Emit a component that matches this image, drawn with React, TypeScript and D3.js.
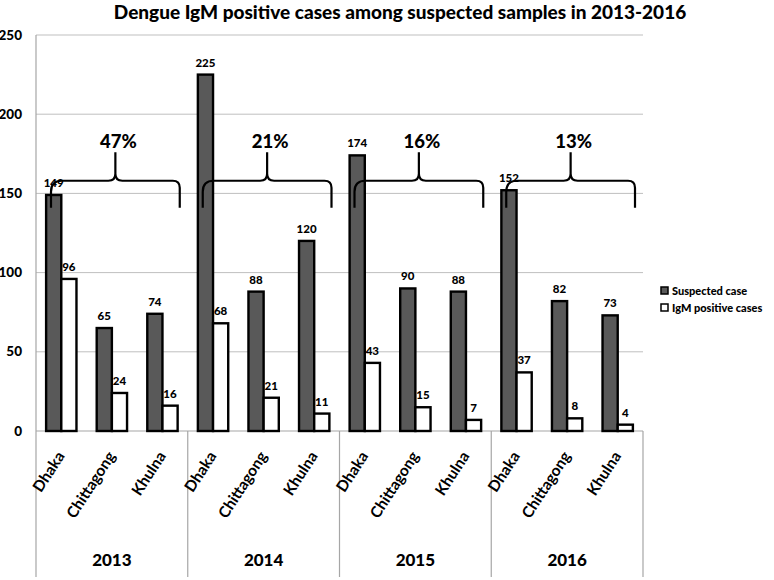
import React from "react";
import * as d3 from "d3";

const years = ["2013", "2014", "2015", "2016"];
const cities = ["Dhaka", "Chittagong", "Khulna"];
const seriesNames = ["Suspected case", "IgM positive cases"];
const suspected = [149, 65, 74, 225, 88, 120, 174, 90, 88, 152, 82, 73];
const igmPositive = [96, 24, 16, 68, 21, 11, 43, 15, 7, 37, 8, 4];
const percentLabels = ["47%", "21%", "16%", "13%"];
const yTicks = [0, 50, 100, 150, 200, 250];
const braceLevel = 158;
const braceEnd = 141;
const braceTip = 176;

const W = 774;
const H = 580;
const FONT = "Lato, 'Open Sans', sans-serif";

export default function App() {
  const left = 36, right = 643, top = 35, bottom = 431;
  const y = d3.scaleLinear().domain([0, 250]).range([bottom, top]);
  const cats = years.flatMap((yr) => cities.map((c) => `${yr}-${c}`));
  const x = d3.scaleBand().domain(cats).range([left, right]).paddingInner(0).paddingOuter(0);
  const bw = x.bandwidth();
  const inner = d3.scaleBand().domain(seriesNames).range([bw * 0.2, bw * 0.8]).padding(0);
  const series = [suspected, igmPositive];
  const fills = ["#595959", "#ffffff"];
  const groupW = bw * 3;

  const bracePath = (gx0: number) => {
    const x0 = gx0 + 15;
    const x1 = gx0 + groupW - 8;
    const xm = (x0 + x1) / 2;
    const yh = y(braceLevel);
    const ye = y(braceEnd);
    const yt = y(braceTip);
    const r = 7;
    return `M${x0},${ye} L${x0},${yh + r + 4} Q${x0},${yh} ${x0 + r + 4},${yh} L${xm - r},${yh} Q${xm},${yh} ${xm},${yh - r} L${xm},${yt} M${xm},${yh - r} Q${xm},${yh} ${xm + r},${yh} L${x1 - r},${yh} Q${x1},${yh} ${x1},${yh + r} L${x1},${ye}`;
  };

  return (
    <svg width={W} height={H} style={{ position: "absolute", left: 0, top: 0, background: "#fff" }} fontFamily={FONT}>
      <rect x={0} y={0} width={W} height={H} fill="#fff" />
      <text x={400} y={19} textAnchor="middle" fontSize={19} fontWeight="900" fill="#000">
        Dengue IgM positive cases among suspected samples in 2013-2016
      </text>
      {yTicks.map((t) => (
        <g key={t}>
          {t > 0 && <line x1={left} x2={right} y1={y(t)} y2={y(t)} stroke="#bfbfbf" strokeWidth={1} />}
          <text x={22} y={y(t) + 4.5} textAnchor="end" fontSize={13.5} fontWeight="900" fill="#000">{t}</text>
        </g>
      ))}
      <line x1={left} x2={left} y1={top} y2={577} stroke="#a6a6a6" strokeWidth={1.2} />
      <line x1={left} x2={right} y1={bottom} y2={bottom} stroke="#a6a6a6" strokeWidth={1.2} />
      {years.map((yr, i) => {
        const gx = left + i * groupW;
        return (
          <g key={yr}>
            <line x1={gx + groupW} x2={gx + groupW} y1={bottom} y2={577} stroke="#a6a6a6" strokeWidth={1.2} />
            <text x={gx + groupW / 2} y={566} textAnchor="middle" fontSize={17} fontWeight="900" fill="#000">{yr}</text>
          </g>
        );
      })}
      {cats.map((c, ci) => (
        <g key={c}>
          {series.map((vals, si) => {
            const bx = (x(c) as number) + (inner(seriesNames[si]) as number);
            const v = vals[ci];
            return (
              <g key={si}>
                <rect x={bx} y={y(v)} width={inner.bandwidth()} height={bottom - y(v)} fill={fills[si]} stroke="#000" strokeWidth={2.4} />
                <text x={bx + inner.bandwidth() / 2} y={y(v) - 8} textAnchor="middle" fontSize={11.5} fontWeight="900" fill="#000">{v}</text>
              </g>
            );
          })}
          <text
            transform={`translate(${(x(c) as number) + bw / 2 + 4},456) rotate(-57)`}
            textAnchor="end"
            fontSize={15.5}
            fontWeight="bold"
            fill="#000"
          >
            {cities[ci % 3]}
          </text>
        </g>
      ))}
      {years.map((yr, i) => {
        const gx = left + i * groupW;
        const xm = (gx + 15 + gx + groupW - 8) / 2;
        return (
          <g key={`b${yr}`}>
            <path d={bracePath(gx)} fill="none" stroke="#000" strokeWidth={2.2} />
            <text x={xm + 3} y={y(braceTip) - 4} textAnchor="middle" fontSize={18.5} fontWeight="900" fill="#000">{percentLabels[i]}</text>
          </g>
        );
      })}
      {seriesNames.map((s, i) => (
        <g key={s}>
          <rect x={661} y={287 + i * 17} width={7} height={7} fill={fills[i]} stroke="#000" strokeWidth={1.5} />
          <text x={672} y={295 + i * 17} fontSize={11} fontWeight="900" fill="#000">{s}</text>
        </g>
      ))}
    </svg>
  );
}
